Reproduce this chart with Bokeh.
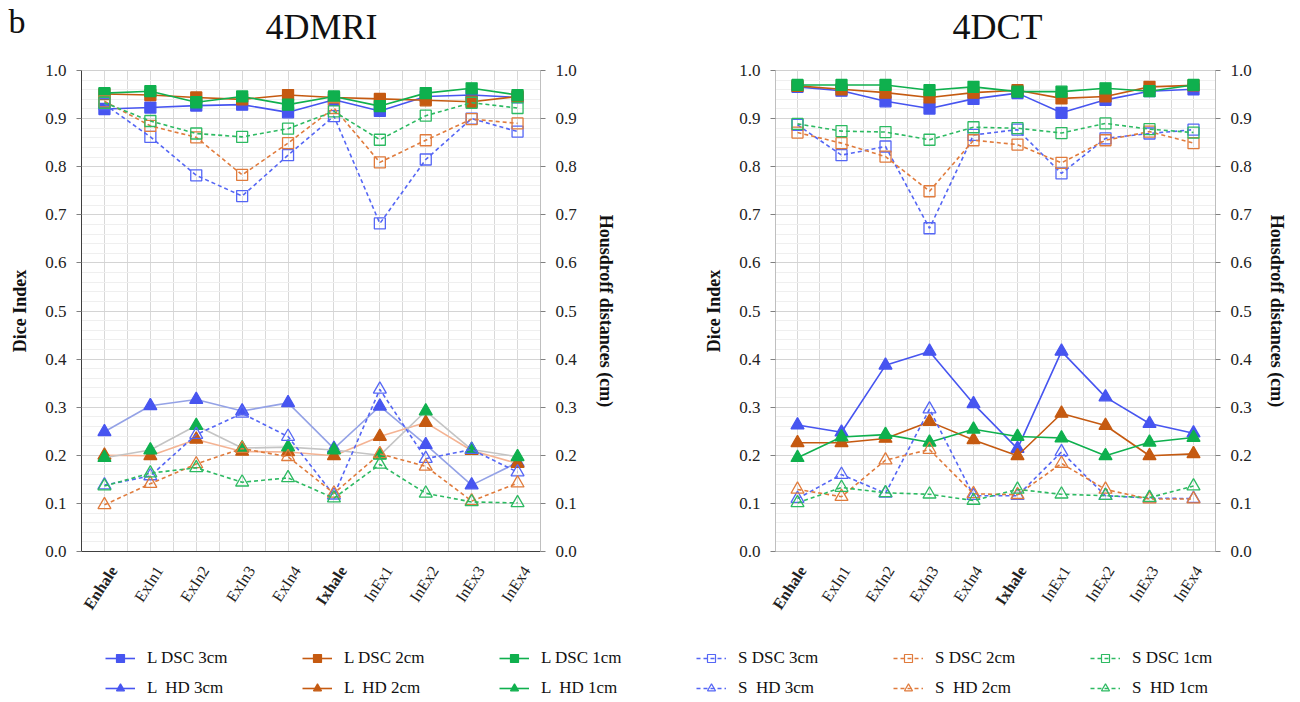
from bokeh.plotting import figure
from bokeh.layouts import column, row
from bokeh.models import (ColumnDataSource, LinearAxis, FixedTicker, Legend, LegendItem,
                          Range1d, PrintfTickFormatter)
from bokeh.core.properties import value
from bokeh.embed import file_html
from bokeh.resources import INLINE

categories = ["Enhale", "ExIn1", "ExIn2", "ExIn3", "ExIn4", "Ixhale", "InEx1", "InEx2", "InEx3", "InEx4"]
bold_categories = ["Enhale", "Ixhale"]
panel_titles = ["4DMRI", "4DCT"]
panel_letter = "b"

# ---------------- 4DMRI ----------------
mri_L_DSC_3 = [0.920, 0.923, 0.927, 0.929, 0.913, 0.939, 0.916, 0.946, 0.949, 0.944]
mri_L_DSC_2 = [0.951, 0.949, 0.944, 0.940, 0.949, 0.944, 0.941, 0.938, 0.935, 0.946]
mri_L_DSC_1 = [0.953, 0.957, 0.934, 0.946, 0.929, 0.946, 0.926, 0.953, 0.963, 0.949]
mri_S_DSC_3 = [0.930, 0.862, 0.782, 0.739, 0.824, 0.905, 0.682, 0.815, 0.900, 0.873]
mri_S_DSC_2 = [0.936, 0.885, 0.861, 0.783, 0.849, 0.922, 0.809, 0.855, 0.899, 0.890]
mri_S_DSC_1 = [0.933, 0.895, 0.869, 0.862, 0.879, 0.915, 0.856, 0.906, 0.933, 0.922]
mri_L_HD_3 = [0.249, 0.303, 0.316, 0.292, 0.309, 0.214, 0.302, 0.222, 0.138, 0.185]
mri_L_HD_2 = [0.200, 0.199, 0.233, 0.208, 0.207, 0.199, 0.239, 0.268, 0.210, 0.183]
mri_L_HD_1 = [0.195, 0.211, 0.262, 0.215, 0.217, 0.211, 0.200, 0.292, 0.212, 0.197]
mri_S_HD_3 = [0.138, 0.157, 0.243, 0.287, 0.239, 0.117, 0.337, 0.193, 0.212, 0.165]
mri_S_HD_2 = [0.097, 0.141, 0.182, 0.214, 0.197, 0.121, 0.203, 0.177, 0.105, 0.142]
mri_S_HD_1 = [0.136, 0.163, 0.174, 0.144, 0.153, 0.111, 0.181, 0.121, 0.103, 0.101]

# ---------------- 4DCT ----------------
ct_L_DSC_3 = [0.966, 0.958, 0.936, 0.921, 0.941, 0.953, 0.912, 0.939, 0.957, 0.961]
ct_L_DSC_2 = [0.968, 0.961, 0.954, 0.944, 0.954, 0.959, 0.942, 0.946, 0.966, 0.969]
ct_L_DSC_1 = [0.970, 0.970, 0.970, 0.959, 0.966, 0.956, 0.956, 0.963, 0.957, 0.970]
ct_S_DSC_3 = [0.887, 0.824, 0.842, 0.672, 0.866, 0.877, 0.786, 0.859, 0.869, 0.877]
ct_S_DSC_2 = [0.871, 0.849, 0.821, 0.749, 0.855, 0.846, 0.808, 0.855, 0.873, 0.849]
ct_S_DSC_1 = [0.889, 0.874, 0.872, 0.856, 0.882, 0.880, 0.870, 0.890, 0.878, 0.871]
ct_L_HD_3 = [0.263, 0.248, 0.387, 0.416, 0.307, 0.214, 0.416, 0.321, 0.266, 0.246]
ct_L_HD_2 = [0.226, 0.226, 0.235, 0.270, 0.232, 0.199, 0.287, 0.262, 0.199, 0.203]
ct_L_HD_1 = [0.195, 0.238, 0.243, 0.227, 0.254, 0.239, 0.236, 0.199, 0.227, 0.237]
ct_S_HD_3 = [0.110, 0.160, 0.121, 0.296, 0.116, 0.116, 0.207, 0.116, 0.111, 0.110]
ct_S_HD_2 = [0.129, 0.114, 0.190, 0.212, 0.120, 0.118, 0.183, 0.129, 0.109, 0.109]
ct_S_HD_1 = [0.101, 0.133, 0.122, 0.119, 0.106, 0.129, 0.119, 0.116, 0.112, 0.136]

FONT = "Liberation Serif"
BLUE = "#4755F0"
ORANGE = "#C55A11"
GREEN = "#0FB04E"
S_BLUE = "#5566F5"
S_ORANGE = "#E07B3C"
S_GREEN = "#2DBA62"
MRI_HD_LINE = {"3": "#94A2E6", "2": "#F4B393", "1": "#C4C4C4"}

series_order = [
    ("L", "DSC", "3"), ("L", "DSC", "2"), ("L", "DSC", "1"),
    ("S", "DSC", "3"), ("S", "DSC", "2"), ("S", "DSC", "1"),
    ("L", "HD", "3"), ("L", "HD", "2"), ("L", "HD", "1"),
    ("S", "HD", "3"), ("S", "HD", "2"), ("S", "HD", "1"),
]
mri = {
    ("L", "DSC", "3"): mri_L_DSC_3, ("L", "DSC", "2"): mri_L_DSC_2, ("L", "DSC", "1"): mri_L_DSC_1,
    ("S", "DSC", "3"): mri_S_DSC_3, ("S", "DSC", "2"): mri_S_DSC_2, ("S", "DSC", "1"): mri_S_DSC_1,
    ("L", "HD", "3"): mri_L_HD_3, ("L", "HD", "2"): mri_L_HD_2, ("L", "HD", "1"): mri_L_HD_1,
    ("S", "HD", "3"): mri_S_HD_3, ("S", "HD", "2"): mri_S_HD_2, ("S", "HD", "1"): mri_S_HD_1,
}
ct = {
    ("L", "DSC", "3"): ct_L_DSC_3, ("L", "DSC", "2"): ct_L_DSC_2, ("L", "DSC", "1"): ct_L_DSC_1,
    ("S", "DSC", "3"): ct_S_DSC_3, ("S", "DSC", "2"): ct_S_DSC_2, ("S", "DSC", "1"): ct_S_DSC_1,
    ("L", "HD", "3"): ct_L_HD_3, ("L", "HD", "2"): ct_L_HD_2, ("L", "HD", "1"): ct_L_HD_1,
    ("S", "HD", "3"): ct_S_HD_3, ("S", "HD", "2"): ct_S_HD_2, ("S", "HD", "1"): ct_S_HD_1,
}
legend_labels = {
    ("L", "DSC", "3"): "L DSC 3cm", ("L", "DSC", "2"): "L DSC 2cm", ("L", "DSC", "1"): "L DSC 1cm",
    ("S", "DSC", "3"): "S DSC 3cm", ("S", "DSC", "2"): "S DSC 2cm", ("S", "DSC", "1"): "S DSC 1cm",
    ("L", "HD", "3"): "L  HD 3cm", ("L", "HD", "2"): "L  HD 2cm", ("L", "HD", "1"): "L  HD 1cm",
    ("S", "HD", "3"): "S  HD 3cm", ("S", "HD", "2"): "S  HD 2cm", ("S", "HD", "1"): "S  HD 1cm",
}

# ---------------- layout constants (pixels) ----------------
TOTAL_W = 1292
TOP_H = 50
PANEL_H = 511
LAB_H = 59
LEG_H = 78
W1, W2 = 658, 634
P1_BORDERS = dict(l=81, r=118, t=20, b=10)
P2_BORDERS = dict(l=117, r=77, t=17, b=10)


def colors(kind, size):
    if kind == "L":
        return {"3": BLUE, "2": ORANGE, "1": GREEN}[size]
    return {"3": S_BLUE, "2": S_ORANGE, "1": S_GREEN}[size]


def style_for(kind, metric, size):
    c = colors(kind, size)
    marker = "square" if metric == "DSC" else "triangle"
    msize = 11 if metric == "DSC" else 13
    dash = "solid" if kind == "L" else "4 3"
    fill = c if kind == "L" else None
    return c, marker, msize, dash, fill


def bare(p):
    p.axis.visible = False
    p.grid.visible = False
    p.outline_line_color = None
    return p


def make_panel(data, width, b, axis_dark, hd_light, rlabel_standoff):
    p = figure(width=width, height=PANEL_H, output_backend="svg", toolbar_location=None,
               x_range=Range1d(-0.5, 9.5), y_range=Range1d(0, 1.0),
               min_border_left=b["l"], min_border_right=b["r"], min_border_top=b["t"], min_border_bottom=b["b"])
    p.outline_line_color = "#d0d0d0"

    yt = FixedTicker(ticks=[i / 10 for i in range(11)], minor_ticks=[i / 50 for i in range(51)])
    xt = FixedTicker(ticks=list(range(10)), minor_ticks=[i + 0.5 for i in range(-1, 10)])
    p.xaxis.ticker = xt
    p.yaxis.ticker = yt
    p.xgrid.ticker = xt
    p.ygrid.ticker = yt
    p.xgrid.grid_line_color = "#d9d9d9"
    p.xgrid.minor_grid_line_color = "#d9d9d9"
    p.ygrid.grid_line_color = "#d4d4d4"
    p.ygrid.minor_grid_line_color = "#efefef"

    raxis = LinearAxis(ticker=yt)
    p.add_layout(raxis, "right")
    for ax, lab, sd in ((p.yaxis[0], "Dice Index", 12), (raxis, "Housdroff distances (cm)", rlabel_standoff)):
        ax.axis_label = lab
        ax.axis_label_text_font = FONT
        ax.axis_label_text_font_size = "18px"
        ax.axis_label_text_font_style = "bold"
        ax.axis_label_text_color = "#111111"
        ax.axis_label_standoff = sd
        ax.formatter = PrintfTickFormatter(format="%.1f")
        ax.major_label_text_font = FONT
        ax.major_label_text_font_size = "17px"
        ax.major_label_text_color = "#222222"
        ax.major_label_standoff = 10
        ax.major_tick_in = 0
        ax.major_tick_out = 5
        ax.minor_tick_line_color = None
        ax.major_tick_line_color = "#808080"
        ax.axis_line_color = "#bfbfbf"
    xa = p.xaxis[0]
    xa.major_label_overrides = {i: "" for i in range(10)}
    xa.major_label_text_font_size = "0px"
    xa.major_label_standoff = 0
    xa.major_tick_in = 0
    xa.major_tick_out = 0
    xa.minor_tick_line_color = None
    xa.axis_line_color = "#bfbfbf"
    if axis_dark:
        p.yaxis[0].axis_line_color = "#404040"
        xa.axis_line_color = "#404040"

    xs = list(range(len(categories)))
    for key in series_order:
        kind, metric, size = key
        c, marker, msize, dash, fill = style_for(kind, metric, size)
        src = ColumnDataSource(dict(x=xs, y=data[key]))
        lc = c
        if hd_light and kind == "L" and metric == "HD":
            lc = MRI_HD_LINE[size]
        p.line("x", "y", source=src, line_color=lc, line_width=1.6, line_dash=dash)
        p.scatter("x", "y", source=src, marker=marker, size=msize, line_color=c,
                  fill_color=fill, line_width=1.3)
    return p


p1 = make_panel(mri, W1, P1_BORDERS, True, True, 16)
p2 = make_panel(ct, W2, P2_BORDERS, False, False, 12)

# ---------------- top strip: panel letter and titles ----------------
top = bare(figure(width=TOTAL_W, height=TOP_H, output_backend="svg", toolbar_location=None,
                  x_range=Range1d(0, TOTAL_W), y_range=Range1d(TOP_H, 0),
                  min_border_left=0, min_border_right=0, min_border_top=0, min_border_bottom=0))
top.text(x=[8], y=[21], text=[panel_letter], text_align="left", text_baseline="middle",
         text_font=value(FONT), text_font_size="34px", text_color="#111111")
top.text(x=[321, 997], y=[26, 26], text=panel_titles, text_align="center", text_baseline="middle",
         text_font=value(FONT), text_font_size="36px", text_color="#111111")


# ---------------- category-label strip (same x scale as each panel) ----------------
def category_range(panel_left, width, b):
    ppu = (width - b["l"] - b["r"]) / 10.0
    left = panel_left + b["l"]
    return Range1d(-0.5 - left / ppu, -0.5 + (TOTAL_W - left) / ppu)


lab = bare(figure(width=TOTAL_W, height=LAB_H, output_backend="svg", toolbar_location=None,
                  x_range=Range1d(0, 1), y_range=Range1d(LAB_H, 0),
                  min_border_left=0, min_border_right=0, min_border_top=0, min_border_bottom=0))
lab.extra_x_ranges = {"mri": category_range(0, W1, P1_BORDERS), "ct": category_range(W1, W2, P2_BORDERS)}
for rname, xoff in (("mri", 9), ("ct", 5)):
    for fs in ("normal", "bold"):
        idx = [i for i, c in enumerate(categories) if (c in bold_categories) == (fs == "bold")]
        src = ColumnDataSource(dict(x=idx, y=[6] * len(idx), t=[categories[i] for i in idx]))
        lab.text("x", "y", text="t", source=src, x_range_name=rname, angle=57, angle_units="deg",
                 text_align="right", text_baseline="middle", x_offset=xoff,
                 text_font=value(FONT), text_font_size="16px", text_font_style=fs,
                 text_color="#222222")

# ---------------- legend strip ----------------
leg = bare(figure(width=TOTAL_W, height=LEG_H, output_backend="svg", toolbar_location=None,
                  x_range=Range1d(0, 1), y_range=Range1d(0, 1),
                  min_border_left=0, min_border_right=0, min_border_top=0, min_border_bottom=0))
row1, row2 = [], []
for key in series_order:
    kind, metric, size = key
    c, marker, msize, dash, fill = style_for(kind, metric, size)
    src = ColumnDataSource(dict(x=[-5.0], y=[-5.0]))
    lr = leg.line("x", "y", source=src, line_color=c, line_width=1.6, line_dash=dash)
    sr = leg.scatter("x", "y", source=src, marker=marker, size=9, line_color=c, fill_color=fill, line_width=1.2)
    item = LegendItem(label=legend_labels[key], renderers=[lr, sr])
    (row1 if metric == "DSC" else row2).append(item)

for items, yloc in ((row1, 30), (row2, 0)):
    lg = Legend(items=items, orientation="horizontal", location=(105, yloc),
                glyph_width=30, glyph_height=20, label_standoff=12, label_width=155, spacing=0,
                padding=0, margin=0, border_line_color=None, background_fill_alpha=0,
                label_text_font=FONT, label_text_font_size="17px", label_text_color="#111111")
    leg.add_layout(lg, "center")

layout = column(top, row(p1, p2), lab, leg)
open("out.html", "w").write(file_html(layout, INLINE))
